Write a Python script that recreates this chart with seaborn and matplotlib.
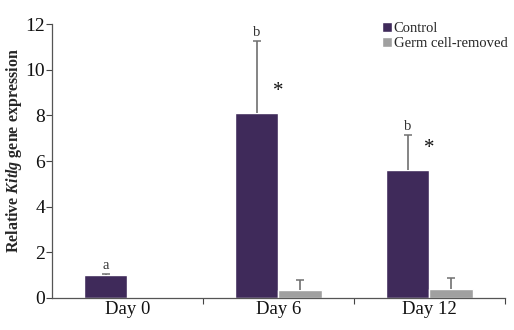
import matplotlib
matplotlib.use("Agg")
import matplotlib.pyplot as plt
import seaborn as sns
import pandas as pd
import numpy as np

days = ["Day 0", "Day 6", "Day 12"]
groups = ["Control", "Germ cell-removed"]
control_mean = [1.0, 8.1, 5.6]
control_err = [0.05, 3.15, 1.55]
removed_mean = [np.nan, 0.35, 0.38]
removed_err = [np.nan, 0.45, 0.5]
letters = ["a", "b", "b"]
stars = ["", "*", "*"]
palette = {"Control": "#3F2A5A", "Germ cell-removed": "#A0A0A0"}

sns.set_theme(style="white")
plt.rcParams["font.family"] = ["Liberation Serif", "DejaVu Serif"]
plt.rcParams["mathtext.fontset"] = "custom"
plt.rcParams["mathtext.rm"] = "Liberation Serif"
plt.rcParams["mathtext.it"] = "Liberation Serif:italic"
plt.rcParams["mathtext.bf"] = "Liberation Serif:bold"
plt.rcParams["mathtext.bfit"] = "Liberation Serif:italic:bold"

df = pd.DataFrame({
    "Day": days * 2,
    "Group": [groups[0]] * 3 + [groups[1]] * 3,
    "Value": control_mean + removed_mean,
})

fig = plt.figure(figsize=(5.14, 3.30), dpi=100)
ax = fig.add_axes([0.101, 0.097, 0.8815, 0.83])

sns.barplot(data=df, x="Day", y="Value", hue="Group", order=days,
            hue_order=groups, palette=palette, width=0.57, errorbar=None,
            saturation=1, ax=ax)

# dodged bar centres: each hue level sits half a bar width from the category tick
centres = np.arange(len(days))
bw = max(p.get_width() for p in ax.patches)
ctrl_x = centres - bw / 2
rem_x = centres + bw / 2
n = len(days)

# upper-only error bars (the lower cap is hidden)
for xs, means, errs in [(ctrl_x, control_mean, control_err),
                        (rem_x, removed_mean, removed_err)]:
    eb = ax.errorbar(xs, means, yerr=[np.zeros(n), errs], fmt="none",
                     ecolor="#707070", elinewidth=1.2, capsize=3, capthick=1.1)
    eb.lines[1][0].set_visible(False)

for i in range(n):
    top = control_mean[i] + control_err[i]
    ax.text(ctrl_x[i], top + 0.1, letters[i], ha="center", va="bottom",
            fontsize=10.5, color="#333333")
    if stars[i]:
        ax.text(centres[i], control_mean[i] + 0.95, stars[i],
                ha="center", va="center", fontsize=15, color="#111111")

ax.set_xlim(-0.5, 2.5)
ax.set_ylim(0, 12)
ax.set_yticks(range(0, 13, 2))
ax.set_xlabel("")
ax.set_ylabel(r"Relative $\mathbfit{Kitlg}$ gene expression", fontsize=11.5,
              fontweight="bold")
ax.yaxis.set_label_coords(-0.062, 0.54)

ax.tick_params(axis="y", which="major", direction="out", length=4, width=0.8,
               colors="#444444", labelsize=14, labelcolor="#111111", left=True,
               pad=1)
ax.tick_params(axis="x", which="major", length=0, labelsize=13.5,
               labelcolor="#111111", pad=2)
ax.set_xticks([0.5, 1.5, 2.5], minor=True)
ax.tick_params(axis="x", which="minor", direction="out", length=4, width=0.8,
               colors="#444444", bottom=True)

for s in ["top", "right"]:
    ax.spines[s].set_visible(False)
for s in ["left", "bottom"]:
    ax.spines[s].set_color("#555555")
    ax.spines[s].set_linewidth(0.9)

ax.legend(loc="upper right", bbox_to_anchor=(1.025, 1.04), frameon=False,
          fontsize=10.5, handlelength=0.7, handleheight=0.7, handletextpad=0.1,
          labelspacing=0.15, borderaxespad=0.2)

fig.savefig("out.png", dpi=100)
